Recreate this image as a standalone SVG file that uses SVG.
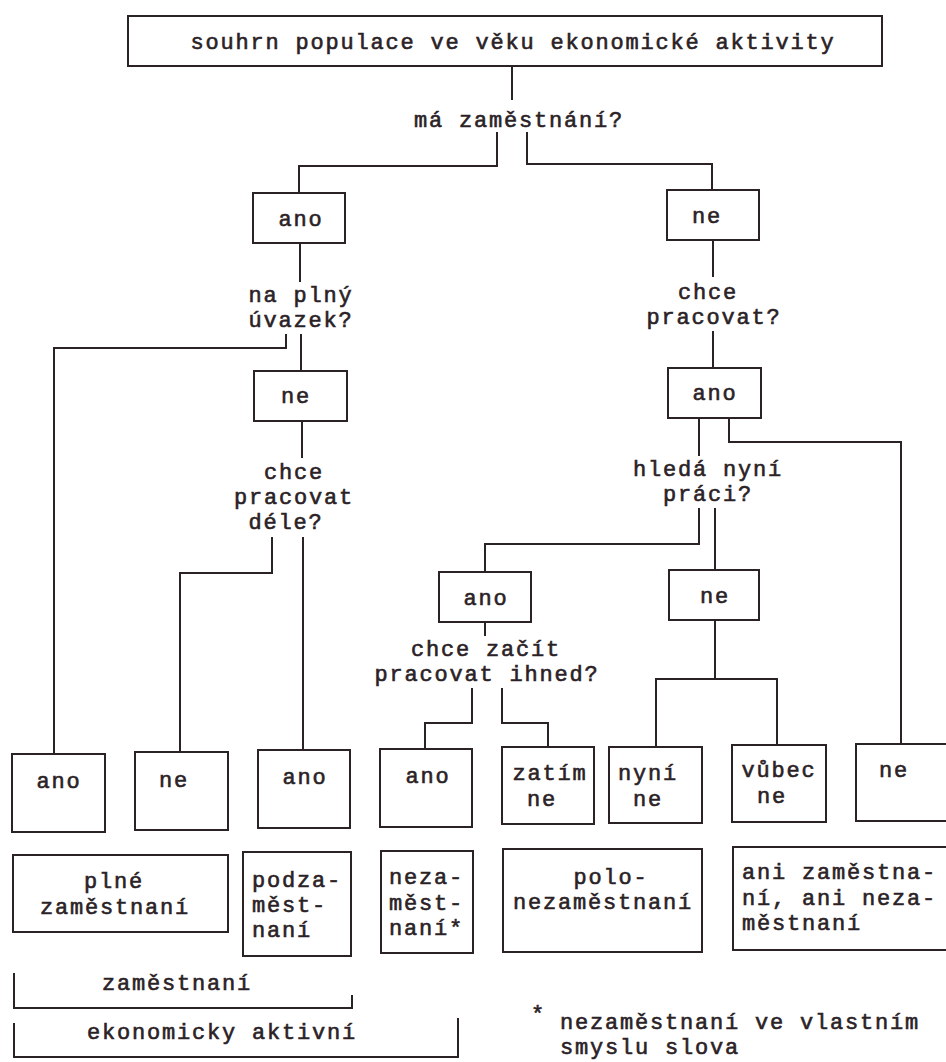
<svg xmlns="http://www.w3.org/2000/svg" width="946" height="1062" viewBox="0 0 946 1062">
<style>
.bx{fill:none;stroke:#2b2226;stroke-width:2}
.ln{fill:none;stroke:#2b2226;stroke-width:2}
text{font-family:"Liberation Mono","Courier New",monospace;font-size:22px;letter-spacing:1.8px;fill:#2b2226;stroke:#2b2226;stroke-width:0.6}
.c{text-anchor:middle}
</style>
<rect width="946" height="1062" fill="#ffffff"/>
<g id="connectors">
<path class="ln" d="M512,66 V100"/>
<path class="ln" d="M497,132 V166 H299 V193"/>
<path class="ln" d="M527,132 V164 H712 V190"/>
<path class="ln" d="M300,243 V282"/>
<path class="ln" d="M286,334 V348 H54 V754"/>
<path class="ln" d="M301,334 V371"/>
<path class="ln" d="M302,421 V458"/>
<path class="ln" d="M272,537 V573 H180 V752"/>
<path class="ln" d="M303,537 V750"/>
<path class="ln" d="M713,240 V277"/>
<path class="ln" d="M713,331 V368"/>
<path class="ln" d="M699,418 V456"/>
<path class="ln" d="M729,418 V442 H901 V744"/>
<path class="ln" d="M699,508 V544 H485 V572"/>
<path class="ln" d="M715,508 V570"/>
<path class="ln" d="M485,622 V636"/>
<path class="ln" d="M472,688 V723 H425 V749"/>
<path class="ln" d="M502,688 V723 H548 V747"/>
<path class="ln" d="M715,620 V679"/>
<path class="ln" d="M656,747 V679 H777 V745"/>
</g>
<g id="root">
<rect class="bx" x="128" y="16" width="754" height="50"/>
<text class="c" x="513" y="49">souhrn populace ve věku ekonomické aktivity</text>
</g>
<g id="q-zamestnani"><text class="c" x="519" y="127">má zaměstnání?</text></g>
<g id="ano1"><rect class="bx" x="253" y="193" width="92" height="50"/><text class="c" x="301" y="226">ano</text></g>
<g id="ne1"><rect class="bx" x="667" y="190" width="92" height="50"/><text class="c" x="707" y="223">ne</text></g>
<g id="q-plny"><text class="c" x="301" y="302">na plný</text><text class="c" x="301" y="327">úvazek?</text></g>
<g id="ne2"><rect class="bx" x="254" y="371" width="93" height="50"/><text class="c" x="296" y="403">ne</text></g>
<g id="q-dele"><text class="c" x="294" y="479">chce</text><text class="c" x="294" y="504">pracovat</text><text class="c" x="286" y="529">déle?</text></g>
<g id="q-chce"><text class="c" x="708" y="299">chce</text><text class="c" x="714" y="324">pracovat?</text></g>
<g id="ano2"><rect class="bx" x="668" y="368" width="93" height="50"/><text class="c" x="715" y="400">ano</text></g>
<g id="q-hleda"><text class="c" x="708" y="476">hledá nyní</text><text class="c" x="708" y="501">práci?</text></g>
<g id="ano3"><rect class="bx" x="439" y="572" width="92" height="50"/><text class="c" x="486" y="605">ano</text></g>
<g id="ne3"><rect class="bx" x="669" y="570" width="90" height="50"/><text class="c" x="715" y="603">ne</text></g>
<g id="q-ihned"><text class="c" x="486" y="656">chce začít</text><text class="c" x="487" y="681">pracovat ihned?</text></g>
<g id="b1"><rect class="bx" x="12" y="754" width="93" height="78"/><text class="c" x="59" y="788">ano</text></g>
<g id="b2"><rect class="bx" x="135" y="752" width="93" height="78"/><text class="c" x="174" y="787">ne</text></g>
<g id="b3"><rect class="bx" x="258" y="750" width="92" height="78"/><text class="c" x="305" y="784">ano</text></g>
<g id="b4"><rect class="bx" x="380" y="749" width="92" height="78"/><text class="c" x="428" y="783">ano</text></g>
<g id="b5"><rect class="bx" x="502" y="747" width="92" height="77"/><text class="c" x="550" y="780">zatím</text><text class="c" x="542" y="806">ne</text></g>
<g id="b6"><rect class="bx" x="609" y="747" width="93" height="76"/><text class="c" x="648" y="780">nyní</text><text class="c" x="648" y="806">ne</text></g>
<g id="b7"><rect class="bx" x="732" y="745" width="94" height="77"/><text class="c" x="779" y="777">vůbec</text><text class="c" x="772" y="803">ne</text></g>
<g id="b8"><rect class="bx" x="856" y="744" width="100" height="77"/><text class="c" x="894" y="777">ne</text></g>
<g id="c1"><rect class="bx" x="13" y="855" width="215" height="77"/><text class="c" x="114" y="888">plné</text><text class="c" x="115" y="914">zaměstnaní</text></g>
<g id="c2"><rect class="bx" x="243" y="852" width="108" height="104"/><text x="252" y="887">podza-</text><text x="252" y="912">měst-</text><text x="252" y="937">naní</text></g>
<g id="c3"><rect class="bx" x="381" y="851" width="92" height="102"/><text x="389" y="884">neza-</text><text x="389" y="910">měst-</text><text x="389" y="935">naní*</text></g>
<g id="c4"><rect class="bx" x="503" y="849" width="199" height="103"/><text class="c" x="611" y="884">polo-</text><text class="c" x="603" y="909">nezaměstnaní</text></g>
<g id="c5"><rect class="bx" x="733" y="847" width="223" height="103"/><text x="742" y="879">ani zaměstna-</text><text x="742" y="905">ní, ani neza-</text><text x="742" y="930">městnaní</text></g>
<g id="brace-zamestnani"><path class="ln" d="M14,973 V1008 H352 V995"/><text class="c" x="177" y="990">zaměstnaní</text></g>
<g id="brace-aktivni"><path class="ln" d="M14,1023 V1057 H458 V1018"/><text class="c" x="222" y="1039">ekonomicky aktivní</text></g>
<g id="footnote"><text x="531" y="1021">*</text><text x="560" y="1029">nezaměstnaní ve vlastním</text><text x="560" y="1054">smyslu slova</text></g>
</svg>
